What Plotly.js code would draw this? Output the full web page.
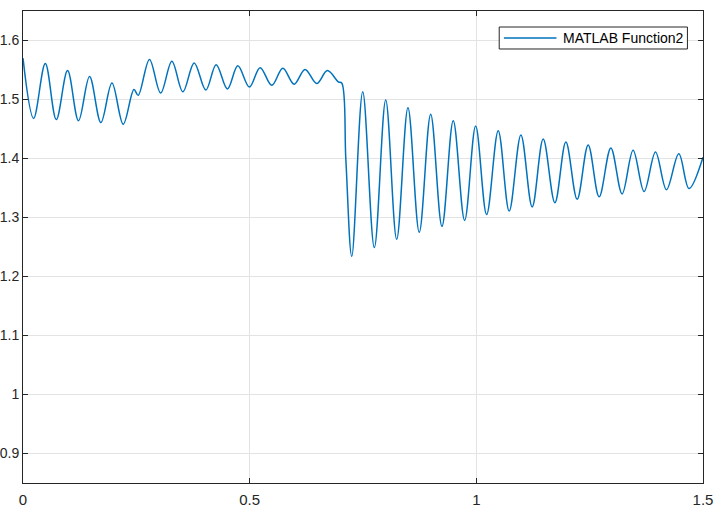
<!DOCTYPE html>
<html>
<head>
<meta charset="utf-8">
<script src="https://cdn.plot.ly/plotly-3.0.1.min.js"></script>
<style>html,body{margin:0;padding:0;background:#fff;}#chart{width:720px;height:530px;}</style>
</head>
<body>
<div id="chart"></div>
<script>
// Time samples (extrema)
const timeValues = [
  0.000, 0.0234, 0.0492, 0.0734, 0.0983, 0.1225, 0.1468, 0.1719, 0.1962, 0.2211,
  0.2447, 0.2541, 0.2790, 0.3037, 0.3284, 0.3527, 0.3776, 0.4033, 0.4261, 0.4510,
  0.4739, 0.4994, 0.5230, 0.5488, 0.5731, 0.5980, 0.6222, 0.6480, 0.6714, 0.6956,
  0.7031, 0.7122, 0.7252, 0.7494, 0.7750, 0.8001, 0.8243, 0.8492, 0.8741, 0.8993,
  0.9242, 0.9491, 0.9742, 0.9985, 1.0227, 1.0483, 1.0725, 1.0983, 1.1232, 1.1475,
  1.1733, 1.1975, 1.2224, 1.2467, 1.2709, 1.2967, 1.3216, 1.3458, 1.3701, 1.3952,
  1.4194, 1.4466, 1.4693, 1.5000
];
// Signal values
const signalValues = [
  1.570, 1.468, 1.561, 1.466, 1.549, 1.464, 1.539, 1.461, 1.528, 1.458,
  1.517, 1.507, 1.568, 1.511, 1.565, 1.513, 1.562, 1.516, 1.559, 1.518,
  1.557, 1.521, 1.554, 1.524, 1.553, 1.526, 1.551, 1.527, 1.549, 1.530,
  1.528, 1.398, 1.234, 1.513, 1.249, 1.499, 1.263, 1.486, 1.275, 1.475,
  1.285, 1.464, 1.295, 1.455, 1.305, 1.447, 1.311, 1.440, 1.318, 1.433,
  1.325, 1.428, 1.331, 1.423, 1.335, 1.418, 1.340, 1.414, 1.344, 1.411,
  1.347, 1.408, 1.349, 1.402
];
const seriesName = 'MATLAB Function2';
const xTickValues = [0, 0.5, 1, 1.5];
const xTickLabels = ['0', '0.5', '1', '1.5'];
const yTickValues = [0.9, 1, 1.1, 1.2, 1.3, 1.4, 1.5, 1.6];
const yTickLabels = ['0.9', '1', '1.1', '1.2', '1.3', '1.4', '1.5', '1.6'];

const lineColor = '#0072BD';
const fontFamily = 'Liberation Sans, Arial, Helvetica, sans-serif';

const axisCommon = {
  showline: true, linecolor: '#262626', linewidth: 1, mirror: 'ticks',
  ticks: 'inside', ticklen: 5, tickcolor: '#262626', tickwidth: 1,
  showgrid: true, gridcolor: '#e3e3e3', gridwidth: 1, zeroline: false,
  tickfont: {family: fontFamily, size: 15, color: '#262626'},
  tickmode: 'array'
};

const trace = {
  x: timeValues, y: signalValues, type: 'scatter', mode: 'lines', name: seriesName,
  line: {color: lineColor, width: 1.5, shape: 'spline', smoothing: 1},
  showlegend: false
};

// Legend box drawn in paper coordinates (MATLAB-style legend)
const legendBox = {x0: 0.7003, x1: 0.9771, y0: 0.9195, y1: 0.9661};
const legendLine = {x0: 0.7072, x1: 0.7845, y: 0.9428};

const layout = {
  width: 720, height: 530,
  margin: {l: 23, r: 17, t: 11, b: 47},
  paper_bgcolor: '#fff', plot_bgcolor: '#fff',
  showlegend: false,
  xaxis: Object.assign({}, axisCommon, {range: [0, 1.5], tickvals: xTickValues, ticktext: xTickLabels, ticklabelstandoff: 3}),
  yaxis: Object.assign({}, axisCommon, {range: [0.85, 1.65], tickvals: yTickValues, ticktext: yTickLabels, ticklabelstandoff: 0,
    tickfont: {family: fontFamily, size: 14, color: '#262626'}}),
  shapes: [
    {type: 'rect', xref: 'paper', yref: 'paper', x0: legendBox.x0, x1: legendBox.x1, y0: legendBox.y0, y1: legendBox.y1,
     fillcolor: '#fff', line: {color: '#262626', width: 1}, layer: 'above'},
    {type: 'line', xref: 'paper', yref: 'paper', x0: legendLine.x0, x1: legendLine.x1, y0: legendLine.y, y1: legendLine.y,
     line: {color: lineColor, width: 1.5}, layer: 'above'}
  ],
  annotations: [
    {xref: 'paper', yref: 'paper', x: 0.7907, y: legendLine.y, xanchor: 'left', yanchor: 'middle',
     text: seriesName, showarrow: false, font: {family: fontFamily, size: 14, color: '#000'}}
  ]
};

Plotly.newPlot('chart', [trace], layout, {displayModeBar: false, staticPlot: true});
</script>
</body>
</html>
